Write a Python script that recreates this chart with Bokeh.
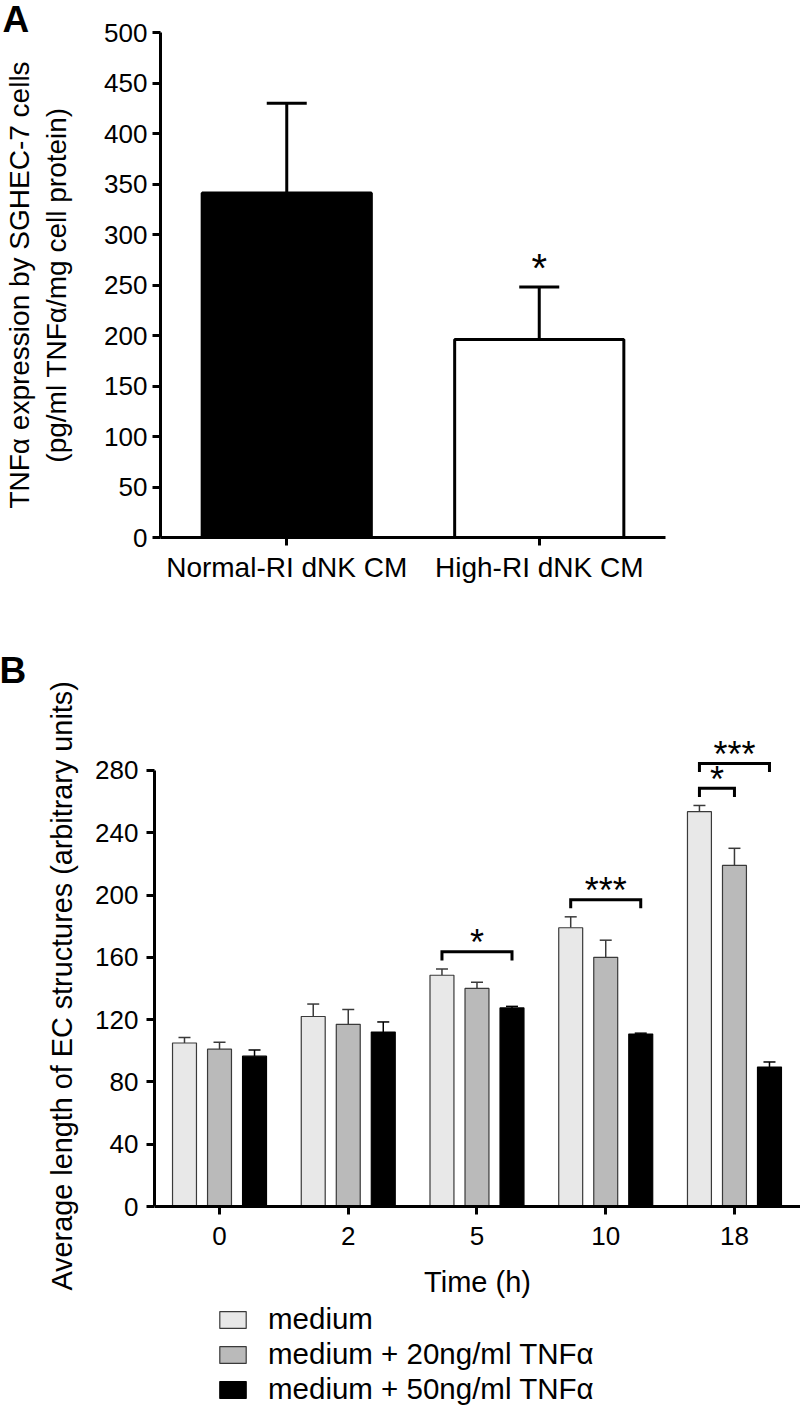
from bokeh.plotting import figure
from bokeh.models import (ColumnDataSource, FactorRange, Range1d, FixedTicker, Whisker, TeeHead,
                          Title, Legend, LegendItem)
from bokeh.transform import dodge
from bokeh.embed import file_html
from bokeh.resources import INLINE
from bokeh.core.properties import value

FONT = "Liberation Sans"

# ---------------- Panel A data ----------------
a_groups = ["Normal-RI dNK CM", "High-RI dNK CM"]
a_mean = [341, 196]
a_upper = [430, 248]
a_fill = ["black", "white"]
a_sig = ["", "*"]
a_yticks = [0, 50, 100, 150, 200, 250, 300, 350, 400, 450, 500]
a_ylabel = "TNF\u03b1 expression by SGHEC-7 cells\n(pg/ml TNF\u03b1/mg cell protein)"

# ---------------- Panel B data ----------------
time_labels = ["0", "2", "5", "10", "18"]
series_names = ["medium", "medium + 20ng/ml TNF\u03b1", "medium + 50ng/ml TNF\u03b1"]
medium_mean = [105, 122, 148.5, 179, 253.5]
medium_upper = [108.5, 130, 152.5, 186, 257.5]
tnf20_mean = [101, 117, 140, 160, 219]
tnf20_upper = [105.5, 126.5, 144, 171, 230]
tnf50_mean = [96.5, 112, 127.5, 110.7, 89.5]
tnf50_upper = [100.5, 118.5, 128.5, 111.3, 92.8]
b_yticks = [0, 40, 80, 120, 160, 200, 240, 280]
b_ylabel = "Average length of EC structures (arbitrary units)"
b_xlabel = "Time (h)"
# significance comparisons: (time index, series from, series to, label)
comp_time = [2, 3, 4, 4]
comp_from = [0, 0, 0, 0]
comp_to = [2, 2, 1, 2]
comp_text = ["*", "***", "*", "***"]


def style_axis(ax, fs):
    ax.axis_line_width = 3
    ax.axis_line_color = "black"
    ax.major_tick_line_width = 3
    ax.major_tick_line_color = "black"
    ax.major_tick_out = 8
    ax.major_tick_in = 0
    ax.minor_tick_line_color = None
    ax.major_label_text_font = FONT
    ax.major_label_text_font_size = fs
    ax.major_label_text_color = "black"
    ax.axis_label_text_font = FONT
    ax.axis_label_text_font_style = "normal"
    ax.axis_label_text_color = "black"


def letter_title(p, text, offset, standoff):
    p.title.text = text
    p.title.align = "left"
    p.title.offset = offset
    p.title.standoff = standoff
    p.title.text_font = FONT
    p.title.text_font_size = "37px"
    p.title.text_font_style = "bold"
    p.title.text_color = "black"


# ================= Panel A =================
pA = figure(width=800, height=606, x_range=FactorRange(factors=a_groups, range_padding=0),
            y_range=Range1d(0, 500), output_backend="svg", toolbar_location=None,
            min_border_left=160, min_border_right=135, min_border_top=32, min_border_bottom=69)
pA.xgrid.visible = False
pA.ygrid.visible = False
pA.outline_line_color = None

src_a = ColumnDataSource(dict(group=a_groups, mean=a_mean, upper=a_upper, fill=a_fill, sig=a_sig))
pA.vbar(x="group", top="mean", width=0.67, source=src_a, fill_color="fill",
        line_color="black", line_width=3)
pA.add_layout(Whisker(source=src_a, base="group", lower="mean", upper="upper",
                      dimension="height", line_color="black", line_width=3,
                      upper_head=TeeHead(size=40, line_width=3, line_color="black"),
                      lower_head=None))
pA.text(x="group", y="upper", text="sig", source=src_a, text_font=value(FONT),
        text_font_size=value("40px"), text_align="center", text_baseline="alphabetic",
        y_offset=-19, text_color="black")

style_axis(pA.xaxis[0], "28px")
style_axis(pA.yaxis[0], "26px")
pA.yaxis[0].ticker = FixedTicker(ticks=a_yticks)
pA.yaxis[0].major_label_standoff = 5
pA.xaxis[0].major_label_standoff = 6
pA.yaxis[0].axis_label = a_ylabel
pA.yaxis[0].axis_label_text_font_size = "28px"
pA.yaxis[0].axis_label_standoff = 29
letter_title(pA, "A", -158, -15)

# ================= Panel B =================
# frame runs to the bottom of the figure; the x axis sits at y = 0
pB = figure(width=800, height=802, x_range=Range1d(-0.505, 4.513), y_range=Range1d(-129.7, 305),
            output_backend="svg", toolbar_location=None,
            min_border_left=154, min_border_right=0, min_border_top=125, min_border_bottom=0)
pB.xgrid.visible = False
pB.ygrid.visible = False
pB.outline_line_color = None

src_b = ColumnDataSource(dict(x=list(range(len(time_labels))),
                              m0=medium_mean, u0=medium_upper,
                              m1=tnf20_mean, u1=tnf20_upper,
                              m2=tnf50_mean, u2=tnf50_upper))
offsets = [-0.272, 0.0, 0.272]
fills = ["#e8e8e8", "#bababa", "#000000"]
edges = ["#3a3a3a", "#3a3a3a", "#000000"]
bar_renderers = []
for i in range(3):
    r = pB.vbar(x=dodge("x", offsets[i]), top="m%d" % i, width=0.186, bottom=0, source=src_b,
                fill_color=fills[i], line_color=edges[i], line_width=1.2)
    bar_renderers.append(r)
    pB.add_layout(Whisker(source=src_b, base=dodge("x", offsets[i]), lower="m%d" % i,
                          upper="u%d" % i, dimension="height", line_color=edges[i],
                          line_width=1.5,
                          upper_head=TeeHead(size=12, line_width=1.5, line_color=edges[i]),
                          lower_head=None))

# significance brackets, placed above the tallest compared error bar
uppers = [medium_upper, tnf20_upper, tnf50_upper]
xs, ys, tx, ty = [], [], [], []
stack = {}
for t, a, b, lab in zip(comp_time, comp_from, comp_to, comp_text):
    level = stack.get(t, 0)
    stack[t] = level + 1
    top = max(uppers[k][t] for k in range(a, b + 1))
    yb = top + 11 + 16 * level
    x1 = t + offsets[a]
    x2 = t + offsets[b]
    xs.append([x1, x1, x2, x2])
    ys.append([yb - 5.5, yb, yb, yb - 5.5])
    tx.append((x1 + x2) / 2)
    ty.append(yb)
pB.multi_line(xs=xs, ys=ys, line_color="black", line_width=3, line_join="miter")
pB.text(x=tx, y=ty, text=comp_text, text_font=value(FONT), text_font_size=value("36px"),
        text_align="center", text_baseline="alphabetic", y_offset=-9, text_color="black")

style_axis(pB.xaxis[0], "26px")
style_axis(pB.yaxis[0], "26px")
pB.yaxis[0].ticker = FixedTicker(ticks=b_yticks)
pB.yaxis[0].bounds = (0, 280)
pB.yaxis[0].major_label_standoff = 8
pB.xaxis[0].fixed_location = 0
pB.xaxis[0].ticker = FixedTicker(ticks=list(range(len(time_labels))))
pB.xaxis[0].major_label_overrides = {i: lab for i, lab in enumerate(time_labels)}
pB.xaxis[0].major_label_standoff = 12
pB.xaxis[0].axis_label = b_xlabel
pB.xaxis[0].axis_label_text_font_size = "29px"
pB.xaxis[0].axis_label_standoff = 18
letter_title(pB, "B", -155, 81)

pB.add_layout(Title(text=b_ylabel, align="left", offset=118, standoff=29,
                    text_font=FONT, text_font_size="28.8px", text_font_style="normal",
                    text_color="black"), "left")

legend = Legend(items=[LegendItem(label=series_names[i], renderers=[bar_renderers[i]])
                       for i in range(3)],
                location=(62, 2), orientation="vertical",
                border_line_color=None, background_fill_alpha=0, padding=0, margin=0,
                spacing=1, glyph_width=33, glyph_height=21, label_standoff=19,
                label_text_font=FONT, label_text_font_size="29.5px", label_height=33,
                label_text_color="black")
pB.add_layout(legend)

open("out.html", "w").write(file_html([pA, pB], INLINE))
